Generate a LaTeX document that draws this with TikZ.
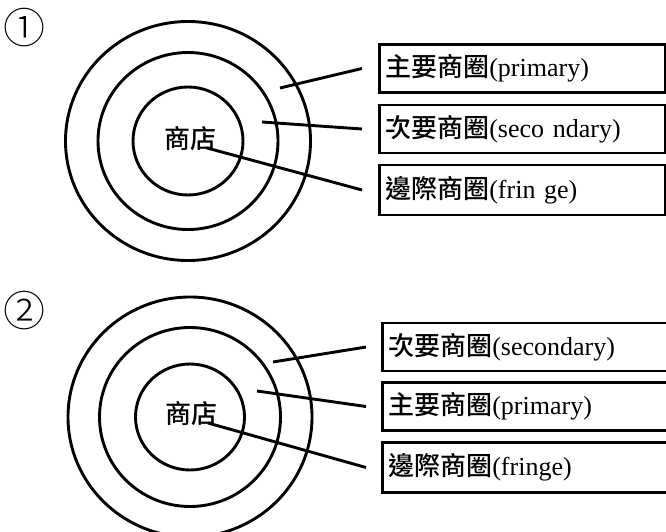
\documentclass[tikz,border=0pt]{standalone}
\usepackage{fontspec}
\setmainfont{Liberation Serif}
\newfontfamily\cjk{Noto Sans CJK TC Medium}
\newfontfamily\cjklight{Noto Sans CJK TC Light}
\begin{document}
\begin{tikzpicture}[x=1pt,y=-1pt,
  ring/.style={line width=2.9pt},
  conn/.style={line width=2.9pt},
  lbl/.style={draw, line width=2.6pt, anchor=west, minimum height=48pt,
    inner xsep=6pt, inner ysep=0pt, align=left,
    font=\fontsize{26}{27}\selectfont},
  lbltop/.style={lbl, text width=274pt},
  lblbot/.style={lbl, text width=300pt},
  store/.style={font=\fontsize{26}{27}\selectfont\cjk, inner sep=0pt},
  num/.style={font=\fontsize{42}{42}\selectfont\cjklight, inner sep=0pt}]
\useasboundingbox (0,0) rectangle (666,532);
\clip (0,0) rectangle (666,532);
% ---------- diagram 1 ----------
\node[num] (n1) at (25,28) {①};
\coordinate (c1) at (188,141);
\draw[ring] (c1) ellipse [x radius=122.5, y radius=119.5];
\draw[ring] (c1) ellipse [x radius=90, y radius=88.5];
\draw[ring] (c1) ellipse [x radius=55, y radius=54];
\node[store] (st1) at (190,139) {商店};
\node[lbltop] (a1) at (378,68.5) {{\cjk 主要商圈}(primary)};
\node[lbltop] (a2) at (378,129) {{\cjk 次要商圈}(seco ndary)};
\node[lbltop, minimum height=50pt] (a3) at (378,190) {{\cjk 邊際商圈}(frin ge)};
\coordinate (p1) at (280,88);
\coordinate (p2) at (262,122);
\coordinate (p3) at (207,148);
\draw[conn] (p1) -- ([xshift=-16pt]a1.west);
\draw[conn] (p2) -- ([xshift=-16pt]a2.west);
\draw[conn] (p3) -- ([xshift=-16pt]a3.west);
% ---------- diagram 2 ----------
\node[num] (n2) at (24,311) {②};
\coordinate (c2) at (190,417);
\draw[ring] (c2) ellipse [x radius=122, y radius=120];
\draw[ring] (c2) ellipse [x radius=90.5, y radius=89.5];
\draw[ring] (c2) ellipse [x radius=54.5, y radius=53];
\node[store] (st2) at (191,414) {商店};
\node[lblbot] (b1) at (381,347) {{\cjk 次要商圈}(secondary)};
\node[lblbot] (b2) at (381,406.5) {{\cjk 主要商圈}(primary)};
\node[lblbot, minimum height=50pt] (b3) at (381,467.5) {{\cjk 邊際商圈}(fringe)};
\coordinate (q1) at (273,362);
\coordinate (q2) at (257,391);
\coordinate (q3) at (208,423);
\draw[conn] (q1) -- ([xshift=-15pt]b1.west);
\draw[conn] (q2) -- ([xshift=-15pt]b2.west);
\draw[conn] (q3) -- ([xshift=-15pt]b3.west);
\end{tikzpicture}
\end{document}
